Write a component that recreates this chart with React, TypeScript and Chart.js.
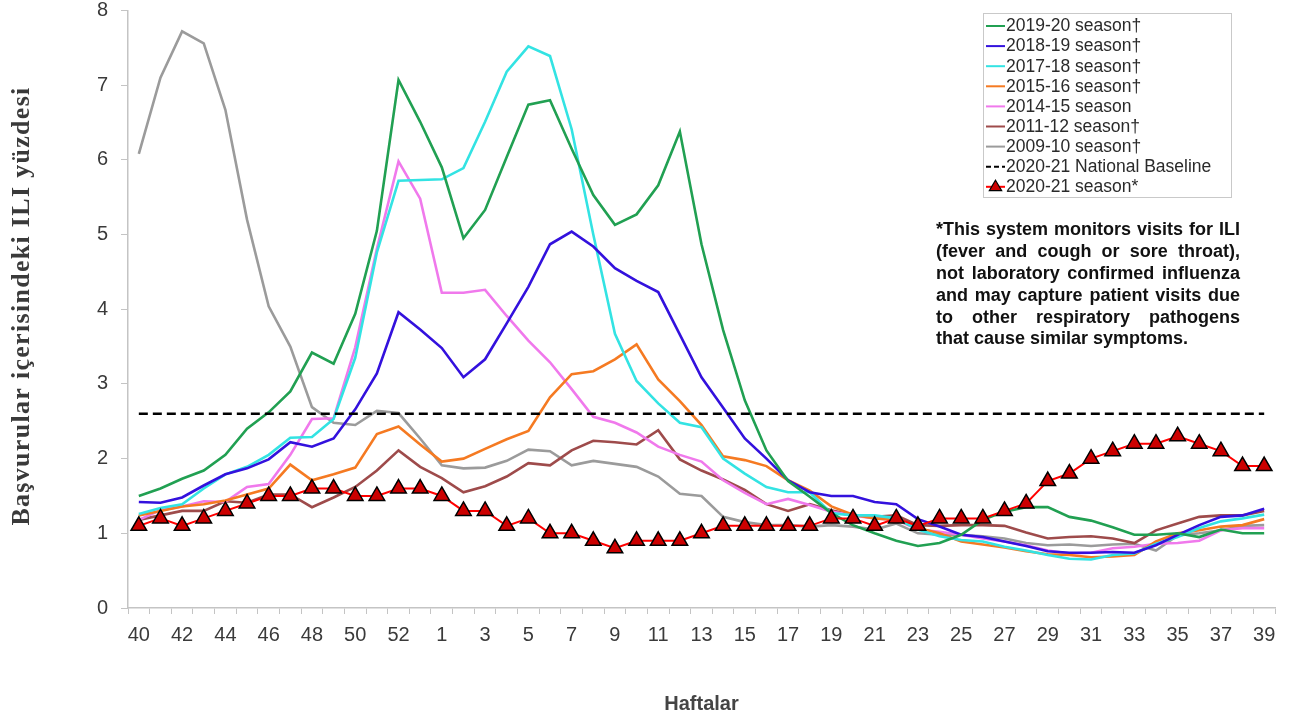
import React, { useEffect, useRef } from 'react';
import { Chart, registerables } from 'chart.js';

Chart.register(...registerables);

// ---------- data ----------
const WEEKS = [
  '40', '41', '42', '43', '44', '45', '46', '47', '48', '49', '50', '51', '52', '53',
  '1', '2', '3', '4', '5', '6', '7', '8', '9', '10', '11', '12', '13', '14', '15', '16',
  '17', '18', '19', '20', '21', '22', '23', '24', '25', '26', '27', '28', '29', '30',
  '31', '32', '33', '34', '35', '36', '37', '38', '39',
];

const SEASON_2019_20 = [
  1.50, 1.60, 1.73, 1.84, 2.05, 2.40, 2.62, 2.90, 3.42, 3.27, 3.94, 5.05, 7.07, 6.51,
  5.90, 4.95, 5.33, 6.04, 6.74, 6.80, 6.15, 5.53, 5.13, 5.27, 5.66, 6.38, 4.87,
  3.72, 2.78, 2.11, 1.70, 1.49, 1.27, 1.11, 1.00, 0.90, 0.83, 0.87, 0.98, 1.18, 1.29,
  1.35, 1.35, 1.22, 1.17, 1.08, 0.98, 0.98, 1.00, 0.95, 1.05, 1.00, 1.00,
];

const SEASON_2018_19 = [
  1.42, 1.41, 1.48, 1.64, 1.79, 1.87, 1.99, 2.22, 2.16, 2.27, 2.66, 3.14, 3.96, 3.73,
  3.48, 3.09, 3.33, 3.81, 4.30, 4.87, 5.04, 4.84, 4.55, 4.38, 4.23, 3.66, 3.09,
  2.68, 2.27, 2.00, 1.71, 1.55, 1.50, 1.50, 1.42, 1.39, 1.19, 1.09, 0.98, 0.95, 0.89,
  0.83, 0.76, 0.74, 0.74, 0.75, 0.74, 0.84, 0.98, 1.11, 1.22, 1.24, 1.33,
];

const SEASON_2017_18 = [
  1.26, 1.34, 1.39, 1.60, 1.79, 1.89, 2.05, 2.28, 2.29, 2.53, 3.35, 4.76, 5.72, 5.73,
  5.74, 5.89, 6.51, 7.18, 7.52, 7.39, 6.41, 5.00, 3.67, 3.04, 2.74, 2.48, 2.42,
  2.00, 1.80, 1.62, 1.55, 1.55, 1.27, 1.24, 1.24, 1.20, 1.05, 0.96, 0.91, 0.89, 0.82,
  0.77, 0.71, 0.66, 0.65, 0.71, 0.73, 0.86, 0.95, 1.07, 1.16, 1.20, 1.25,
];

const SEASON_2015_16 = [
  1.24, 1.30, 1.36, 1.39, 1.44, 1.52, 1.60, 1.92, 1.71, 1.79, 1.88, 2.33, 2.43, 2.19,
  1.96, 2.00, 2.13, 2.26, 2.37, 2.82, 3.13, 3.17, 3.33, 3.53, 3.06, 2.77, 2.45,
  2.03, 1.98, 1.90, 1.71, 1.57, 1.36, 1.25, 1.20, 1.18, 1.07, 1.00, 0.89, 0.85, 0.81,
  0.76, 0.72, 0.71, 0.68, 0.69, 0.71, 0.89, 1.00, 1.04, 1.09, 1.11, 1.19,
];

const SEASON_2014_15 = [
  1.18, 1.31, 1.36, 1.43, 1.42, 1.62, 1.66, 2.05, 2.53, 2.54, 3.49, 4.81, 5.98, 5.48,
  4.22, 4.22, 4.26, 3.91, 3.58, 3.29, 2.93, 2.56, 2.48, 2.35, 2.16, 2.05, 1.96,
  1.71, 1.54, 1.39, 1.46, 1.38, 1.29, 1.24, 1.20, 1.18, 1.05, 1.02, 0.98, 0.93, 0.89,
  0.84, 0.77, 0.73, 0.74, 0.80, 0.82, 0.86, 0.87, 0.90, 1.04, 1.07, 1.07,
];

const SEASON_2011_12 = [
  1.18, 1.24, 1.30, 1.30, 1.43, 1.41, 1.52, 1.52, 1.35, 1.48, 1.62, 1.84, 2.11, 1.89,
  1.74, 1.55, 1.63, 1.76, 1.94, 1.91, 2.11, 2.24, 2.22, 2.19, 2.38, 1.99, 1.84,
  1.72, 1.58, 1.39, 1.30, 1.39, 1.31, 1.24, 1.22, 1.24, 1.11, 1.10, 1.11, 1.11, 1.10,
  1.01, 0.93, 0.95, 0.96, 0.93, 0.87, 1.04, 1.13, 1.22, 1.24, 1.24, 1.30,
];

const SEASON_2009_10 = [
  6.08, 7.10, 7.72, 7.56, 6.67, 5.20, 4.04, 3.50, 2.69, 2.48, 2.45, 2.64, 2.61, 2.27,
  1.91, 1.87, 1.88, 1.97, 2.12, 2.10, 1.91, 1.97, 1.93, 1.89, 1.76, 1.53, 1.50,
  1.22, 1.15, 1.11, 1.11, 1.09, 1.11, 1.09, 1.05, 1.13, 1.00, 0.98, 0.98, 0.96, 0.93,
  0.87, 0.84, 0.85, 0.83, 0.85, 0.86, 0.77, 0.97, 1.00, 1.04, 1.10, 1.11,
];

const SEASON_2020_21 = [
  1.1, 1.2, 1.1, 1.2, 1.3, 1.4, 1.5, 1.5, 1.6, 1.6, 1.5, 1.5, 1.6, 1.6,
  1.5, 1.3, 1.3, 1.1, 1.2, 1.0, 1.0, 0.9, 0.8, 0.9, 0.9, 0.9, 1.0,
  1.1, 1.1, 1.1, 1.1, 1.1, 1.2, 1.2, 1.1, 1.2, 1.1,
  1.2, 1.2, 1.2, 1.3, 1.4, 1.7, 1.8, 2.0, 2.1, 2.2, 2.2, 2.3, 2.2, 2.1, 1.9, 1.9,
];

const NATIONAL_BASELINE = 2.6;

const LABEL_2019_20 = '2019-20 season†';
const LABEL_2018_19 = '2018-19 season†';
const LABEL_2017_18 = '2017-18 season†';
const LABEL_2015_16 = '2015-16 season†';
const LABEL_2014_15 = '2014-15 season';
const LABEL_2011_12 = '2011-12 season†';
const LABEL_2009_10 = '2009-10 season†';
const LABEL_BASELINE = '2020-21 National Baseline';
const LABEL_2020_21 = '2020-21 season*';

const NOTE_LINES = [
  '*This system monitors visits for ILI',
  '(fever and cough or sore throat),',
  'not laboratory confirmed influenza',
  'and may capture patient visits due',
  'to other respiratory pathogens',
  'that cause similar symptoms.',
];

const Y_TITLE = 'Başvurular içerisindeki ILI yüzdesi';
const X_TITLE = 'Haftalar';

// ---------- styles ----------
const SANS = '"Liberation Sans", Arial, sans-serif';
const SERIF = '"Liberation Serif", "Times New Roman", serif';
const C_GREEN = '#21A052';
const C_BLUE = '#3311DD';
const C_CYAN = '#33E3E3';
const C_ORANGE = '#F57A22';
const C_PINK = '#F079EC';
const C_BROWN = '#9E4B4B';
const C_GRAY = '#9B9B9B';
const C_RED = '#FF0000';
const C_TRI = '#CC0000';

const legendPlugin = {
  id: 'customLegendNote',
  afterDraw(chart: any) {
    const ctx = chart.ctx as CanvasRenderingContext2D;
    ctx.save();

    // y-axis title (rotated, slightly tracked serif)
    ctx.save();
    ctx.translate(22, 306);
    ctx.rotate(-Math.PI / 2);
    ctx.font = `bold 26px ${SERIF}`;
    (ctx as any).letterSpacing = '1.3px';
    ctx.fillStyle = '#3a3a3a';
    ctx.textAlign = 'center';
    ctx.textBaseline = 'middle';
    ctx.fillText(Y_TITLE, 0, 0);
    ctx.restore();

    // legend box
    const bx = 983, by = 13, bw = 248, bh = 184;
    ctx.strokeStyle = '#c9c9c9';
    ctx.lineWidth = 1;
    ctx.strokeRect(bx + 0.5, by + 0.5, bw, bh);
    const items = [
      { label: LABEL_2019_20, color: C_GREEN, kind: 'line' },
      { label: LABEL_2018_19, color: C_BLUE, kind: 'line' },
      { label: LABEL_2017_18, color: C_CYAN, kind: 'line' },
      { label: LABEL_2015_16, color: C_ORANGE, kind: 'line' },
      { label: LABEL_2014_15, color: C_PINK, kind: 'line' },
      { label: LABEL_2011_12, color: C_BROWN, kind: 'line' },
      { label: LABEL_2009_10, color: C_GRAY, kind: 'line' },
      { label: LABEL_BASELINE, color: '#000000', kind: 'dash' },
      { label: LABEL_2020_21, color: C_RED, kind: 'tri' },
    ];
    ctx.font = `17.5px ${SANS}`;
    ctx.textBaseline = 'middle';
    ctx.textAlign = 'left';
    items.forEach((it, k) => {
      const y = 26 + k * 20.1;
      const x0 = 986, x1 = 1005;
      ctx.strokeStyle = it.color;
      ctx.lineWidth = 2;
      ctx.setLineDash(it.kind === 'dash' ? [5, 3] : []);
      ctx.beginPath();
      ctx.moveTo(x0, y);
      ctx.lineTo(x1, y);
      ctx.stroke();
      ctx.setLineDash([]);
      if (it.kind === 'tri') {
        const cx = (x0 + x1) / 2, r = 6.5;
        ctx.beginPath();
        ctx.moveTo(cx, y - r);
        ctx.lineTo(cx + r * 0.95, y + r * 0.6);
        ctx.lineTo(cx - r * 0.95, y + r * 0.6);
        ctx.closePath();
        ctx.fillStyle = C_TRI;
        ctx.fill();
        ctx.strokeStyle = '#000';
        ctx.lineWidth = 1.2;
        ctx.stroke();
      }
      ctx.fillStyle = '#2a2a2a';
      ctx.fillText(it.label, 1006, y + 0.5);
    });

    // note text, justified
    ctx.font = `bold 18px ${SANS}`;
    ctx.fillStyle = '#111';
    const nx = 936, nw = 304;
    NOTE_LINES.forEach((line, k) => {
      const y = 230 + k * 21.9;
      if (k === NOTE_LINES.length - 1) {
        ctx.fillText(line, nx, y);
        return;
      }
      const words = line.split(' ');
      const total = words.reduce((s, w) => s + ctx.measureText(w).width, 0);
      const gap = (nw - total) / (words.length - 1);
      let x = nx;
      words.forEach((w) => {
        ctx.fillText(w, x, y);
        x += ctx.measureText(w).width + gap;
      });
    });
    ctx.restore();
  },
};

function lineDs(label: string, data: number[], color: string, order: number) {
  return {
    label,
    data,
    borderColor: color,
    backgroundColor: color,
    borderWidth: 2.6,
    pointRadius: 0,
    pointHoverRadius: 0,
    tension: 0,
    fill: false,
    order,
  };
}

export default function App() {
  const ref = useRef<HTMLCanvasElement | null>(null);

  useEffect(() => {
    if (!ref.current) return;
    const chart = new Chart(ref.current, {
      type: 'line',
      data: {
        labels: WEEKS,
        datasets: [
          {
            label: LABEL_2020_21,
            data: SEASON_2020_21,
            borderColor: C_RED,
            backgroundColor: C_TRI,
            borderWidth: 2,
            pointStyle: 'triangle',
            pointRadius: 9,
            pointBackgroundColor: C_TRI,
            pointBorderColor: '#000000',
            pointBorderWidth: 1.5,
            tension: 0,
            fill: false,
            order: 0,
          } as any,
          {
            label: LABEL_BASELINE,
            data: WEEKS.map(() => NATIONAL_BASELINE),
            borderColor: '#000000',
            borderWidth: 2.5,
            borderDash: [9, 5],
            pointRadius: 0,
            fill: false,
            order: 1,
          } as any,
          lineDs(LABEL_2019_20, SEASON_2019_20, C_GREEN, 2),
          lineDs(LABEL_2018_19, SEASON_2018_19, C_BLUE, 3),
          lineDs(LABEL_2017_18, SEASON_2017_18, C_CYAN, 4),
          lineDs(LABEL_2015_16, SEASON_2015_16, C_ORANGE, 5),
          lineDs(LABEL_2014_15, SEASON_2014_15, C_PINK, 6),
          lineDs(LABEL_2011_12, SEASON_2011_12, C_BROWN, 7),
          lineDs(LABEL_2009_10, SEASON_2009_10, C_GRAY, 8),
        ],
      },
      options: {
        responsive: false,
        animation: false,
        events: [],
        layout: { padding: { top: 0, right: 15, left: 0, bottom: 0 } },
        plugins: {
          legend: { display: false },
          tooltip: { enabled: false },
          title: { display: false },
        },
        scales: {
          x: {
            type: 'category',
            offset: true,
            grid: {
              offset: true,
              drawOnChartArea: false,
              drawTicks: true,
              tickLength: 6,
              color: '#c4c4c4',
            },
            border: { color: '#c4c4c4', width: 1.5 },
            ticks: {
              autoSkip: false,
              maxRotation: 0,
              minRotation: 0,
              padding: 9,
              color: '#3a3a3a',
              font: { family: SANS, size: 20 },
              callback: (_v: any, i: number) => (i % 2 === 0 ? WEEKS[i] : ''),
            },
            title: {
              display: true,
              text: X_TITLE,
              color: '#444',
              font: { family: SANS, size: 20, weight: 'bold' },
              padding: { top: 0, bottom: 4 },
            },
            afterFit: (s: any) => {
              s.height = 112;
            },
          },
          y: {
            min: 0,
            max: 8,
            ticks: {
              stepSize: 1,
              padding: 13,
              color: '#3a3a3a',
              font: { family: SANS, size: 20, lineHeight: 1 },
            },
            grid: {
              drawOnChartArea: false,
              drawTicks: true,
              tickLength: 7,
              color: '#c4c4c4',
            },
            border: { color: '#c4c4c4', width: 1.5 },
            title: { display: false },
            afterFit: (s: any) => {
              s.width = 128;
              s.paddingTop = 10;
              s.paddingBottom = 0;
            },
          },
        },
      } as any,
      plugins: [legendPlugin],
    });
    return () => chart.destroy();
  }, []);

  return (
    <div style={{ position: 'absolute', left: 0, top: 0, width: 1290, height: 720, background: '#fff' }}>
      <canvas ref={ref} width={1290} height={720} style={{ display: 'block' }} />
    </div>
  );
}
